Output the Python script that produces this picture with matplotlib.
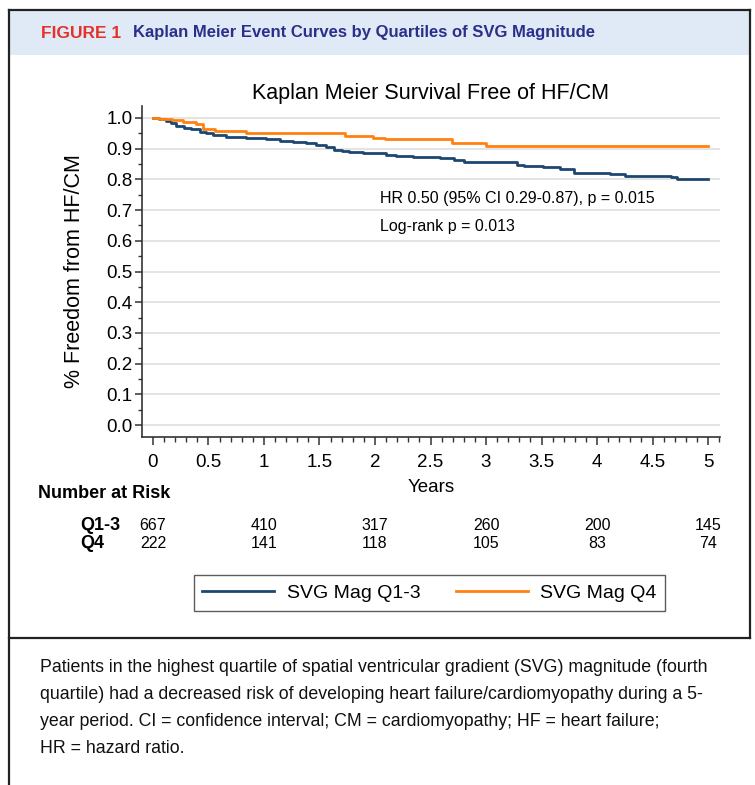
import matplotlib
matplotlib.use('Agg')
import matplotlib.pyplot as plt
from matplotlib.lines import Line2D
from matplotlib.patches import Rectangle
from matplotlib.ticker import MultipleLocator, FuncFormatter
import matplotlib.transforms as mtransforms

# step changes (years, survival)
q13_times = [0, 0.05, 0.12, 0.16, 0.21, 0.28, 0.34, 0.42, 0.48, 0.54, 0.66, 0.84,
             1.02, 1.14, 1.26, 1.38, 1.47, 1.56, 1.63, 1.70, 1.77, 1.89, 2.10, 2.19,
             2.34, 2.59, 2.71, 2.80, 3.04, 3.28, 3.34, 3.51, 3.67, 3.79, 4.12, 4.25,
             4.67, 4.72, 5.0]
q13_surv = [1.0, 0.997, 0.990, 0.983, 0.975, 0.968, 0.964, 0.955, 0.950, 0.945, 0.939, 0.936,
            0.932, 0.926, 0.921, 0.918, 0.913, 0.904, 0.897, 0.892, 0.888, 0.885, 0.880, 0.875,
            0.872, 0.869, 0.863, 0.858, 0.856, 0.847, 0.842, 0.839, 0.833, 0.822, 0.817, 0.812,
            0.808, 0.802, 0.802]

q4_times = [0, 0.05, 0.17, 0.27, 0.39, 0.45, 0.56, 0.84, 1.73, 1.98, 2.09, 2.69, 3.00, 5.0]
q4_surv = [1.0, 0.996, 0.992, 0.987, 0.980, 0.964, 0.958, 0.950, 0.942, 0.936, 0.930, 0.918,
           0.909, 0.909]

risk_times = [0, 1, 2, 3, 4, 5]
risk_q13 = [667, 410, 317, 260, 200, 145]
risk_q4 = [222, 141, 118, 105, 83, 74]

caption_lines = [
    "Patients in the highest quartile of spatial ventricular gradient (SVG) magnitude (fourth",
    "quartile) had a decreased risk of developing heart failure/cardiomyopathy during a 5-",
    "year period. CI = confidence interval; CM = cardiomyopathy; HF = heart failure;",
    "HR = hazard ratio.",
]

W, H = 755, 785
NAVY = '#1d4771'
ORANGE = '#ff8210'

plt.rcParams['font.family'] = ['Liberation Sans', 'DejaVu Sans']


def fx(x):
    return x / W


def fy(y):
    return 1 - y / H


def fit_width(fig, texts, target_px):
    # scale font size so the first text spans target_px; same size for the rest
    r = fig.canvas.get_renderer()
    w = texts[0].get_window_extent(renderer=r).width
    size = texts[0].get_fontsize() * target_px / w
    for t in texts:
        t.set_fontsize(size)


def draw_frame(fig):
    fig.patches.append(Rectangle((fx(10), fy(55)), fx(740), 45 / H, transform=fig.transFigure,
                                 facecolor='#dfeaf6', edgecolor='none', zorder=0))
    kw = dict(transform=fig.transFigure, color='#222222', lw=1.6)
    fig.lines.append(Line2D([fx(9), fx(750)], [fy(10), fy(10)], **kw))
    fig.lines.append(Line2D([fx(9), fx(9)], [fy(10), fy(785)], **kw))
    fig.lines.append(Line2D([fx(750), fx(750)], [fy(10), fy(638)], **kw))
    fig.lines.append(Line2D([fx(9), fx(750)], [fy(638), fy(638)], **kw))

    t1 = fig.text(fx(41), fy(33), 'FIGURE 1', color='#e4312b', fontsize=13, fontweight='bold',
                  va='center', ha='left')
    t2 = fig.text(fx(133), fy(33), 'Kaplan Meier Event Curves by Quartiles of SVG Magnitude',
                  color='#2b2f8a', fontsize=13, fontweight='bold', va='center', ha='left')
    fit_width(fig, [t1], 80)
    fit_width(fig, [t2], 461)

    caps = []
    for i, line in enumerate(caption_lines):
        caps.append(fig.text(fx(40), fy(667 + i * 27.3), line, fontsize=12,
                             color='#111111', va='center', ha='left'))
    fit_width(fig, caps, 670)


def plot_km(fig):
    ax = fig.add_axes([fx(142), fy(437), (720 - 142) / W, (437 - 106) / H])
    l1, = ax.step(q13_times, q13_surv, where='post', color=NAVY, lw=2.0, label='SVG Mag Q1-3')
    l2, = ax.step(q4_times, q4_surv, where='post', color=ORANGE, lw=2.0, label='SVG Mag Q4')

    ax.set_xlim(-0.099, 5.108)
    ax.set_ylim(-0.039, 1.039)
    ax.xaxis.set_major_locator(MultipleLocator(0.5))
    ax.xaxis.set_minor_locator(MultipleLocator(0.1))
    ax.yaxis.set_major_locator(MultipleLocator(0.1))
    ax.yaxis.set_minor_locator(MultipleLocator(0.05))
    ax.xaxis.set_major_formatter(FuncFormatter(lambda v, p: f'{v:g}'))
    ax.yaxis.set_major_formatter(FuncFormatter(lambda v, p: f'{v:.1f}'))
    ax.tick_params(axis='both', which='major', labelsize=13.5, color='#333333', width=1.1)
    ax.tick_params(axis='x', which='major', length=6, pad=6)
    ax.tick_params(axis='x', which='minor', length=3.5, color='#333333', width=1)
    ax.tick_params(axis='y', which='major', length=5, pad=2)
    ax.tick_params(axis='y', which='minor', length=3, color='#333333', width=1)

    ax.grid(axis='y', which='major', color='#dddddd', lw=1.1)
    ax.set_axisbelow(True)
    for s in ['top', 'right']:
        ax.spines[s].set_visible(False)
    for s in ['left', 'bottom']:
        ax.spines[s].set_color('#333333')
        ax.spines[s].set_linewidth(1.2)

    fig.text(fx(431), fy(93), 'Kaplan Meier Survival Free of HF/CM', fontsize=15.5,
             ha='center', va='center')
    fig.text(fx(75), fy(271), '% Freedom from HF/CM', fontsize=15.5, rotation=90,
             ha='center', va='center')
    fig.text(fx(431), fy(488), 'Years', fontsize=13.5, ha='center', va='center')

    ax.text(2.045, 0.739, 'HR 0.50 (95% CI 0.29-0.87), p = 0.015', fontsize=11.5,
            ha='left', va='center')
    ax.text(2.045, 0.648, 'Log-rank p = 0.013', fontsize=11.5, ha='left', va='center')

    # number at risk table
    fig.text(fx(38), fy(494), 'Number at Risk', fontsize=13, fontweight='bold',
             ha='left', va='center')
    fig.text(fx(80), fy(525), 'Q1-3', fontsize=13, fontweight='bold', ha='left', va='center')
    fig.text(fx(80), fy(544), 'Q4', fontsize=13, fontweight='bold', ha='left', va='center')
    trans = mtransforms.blended_transform_factory(ax.transData, fig.transFigure)
    for t, a, b in zip(risk_times, risk_q13, risk_q4):
        ax.text(t, fy(525), str(a), transform=trans, fontsize=11.5, ha='center', va='center',
                clip_on=False)
        ax.text(t, fy(544), str(b), transform=trans, fontsize=11.5, ha='center', va='center',
                clip_on=False)

    leg = fig.legend(handles=[l1, l2], loc='center', bbox_to_anchor=(fx(429.5), fy(593)),
                     ncol=2, fontsize=14, frameon=True, fancybox=False, handlelength=3.7,
                     handletextpad=0.65, columnspacing=1.8, borderpad=0.45)
    leg.get_frame().set_edgecolor('#333333')
    leg.get_frame().set_linewidth(1.0)
    return ax


def main():
    fig = plt.figure(figsize=(W / 100, H / 100), dpi=100)
    draw_frame(fig)
    plot_km(fig)
    fig.savefig('out.png', dpi=100)


if __name__ == "__main__":
    main()
